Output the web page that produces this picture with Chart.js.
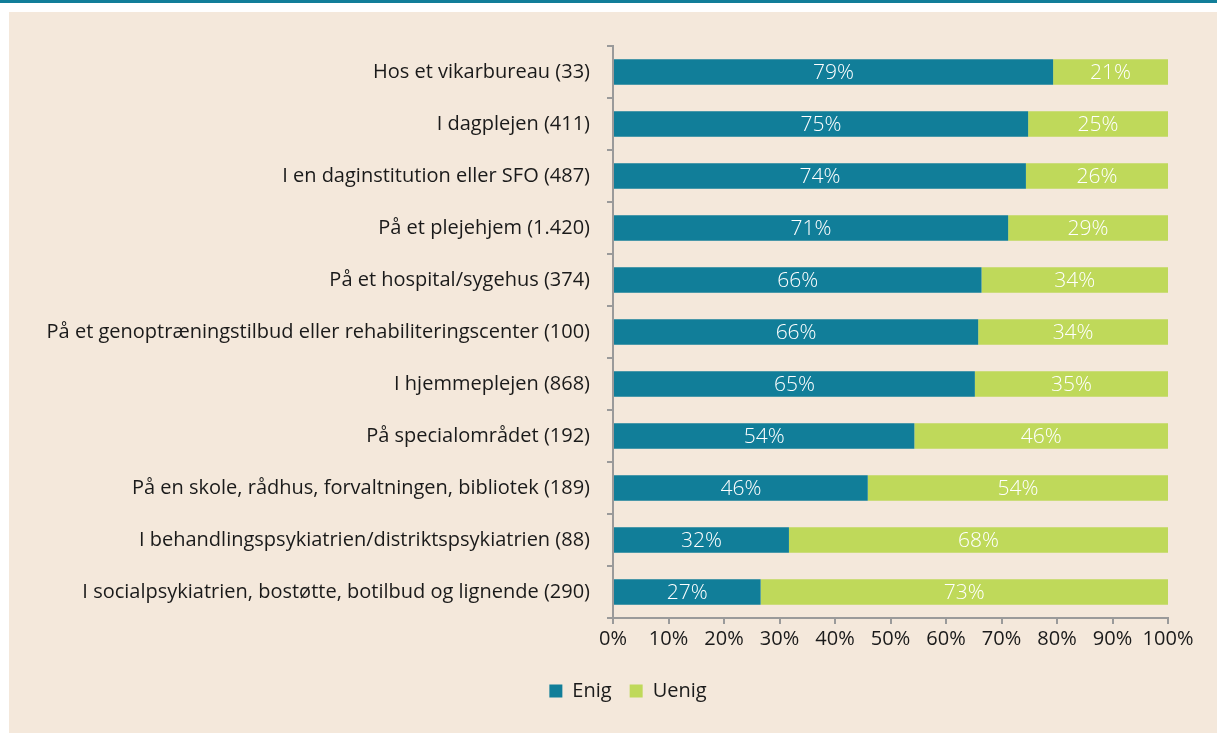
<!DOCTYPE html>
<html>
<head>
<meta charset="utf-8">
<script src="https://cdn.jsdelivr.net/npm/chart.js@4.4.0/dist/chart.umd.min.js"></script>
<style>
  html, body { margin: 0; padding: 0; background: #ffffff; }
  body { width: 1217px; height: 733px; position: relative; overflow: hidden; font-family: "Open Sans", sans-serif; }
  #topline { position: absolute; left: 0; top: 0; width: 1217px; height: 3px; background: #117e99; }
  #panel { position: absolute; left: 9px; top: 12px; width: 1208px; height: 721px; background: #f4e8db; }
  #c { display: block; }
</style>
</head>
<body>
<div id="topline"></div>
<div id="panel"><canvas id="c" width="1208" height="721"></canvas></div>
<script>
const categories = [
  "Hos et vikarbureau (33)",
  "I dagplejen (411)",
  "I en daginstitution eller SFO (487)",
  "På et plejehjem (1.420)",
  "På et hospital/sygehus (374)",
  "På et genoptræningstilbud eller rehabiliteringscenter (100)",
  "I hjemmeplejen (868)",
  "På specialområdet (192)",
  "På en skole, rådhus, forvaltningen, bibliotek (189)",
  "I behandlingspsykiatrien/distriktspsykiatrien (88)",
  "I socialpsykiatrien, bostøtte, botilbud og lignende (290)"
];
const enig  = [79.3, 74.8, 74.4, 71.2, 66.4, 65.8, 65.2, 54.3, 45.9, 31.7, 26.6];
const uenig = [20.7, 25.2, 25.6, 28.8, 33.6, 34.2, 34.8, 45.7, 54.1, 68.3, 73.4];
const xTicks = [0, 10, 20, 30, 40, 50, 60, 70, 80, 90, 100];

const FONT = "'Open Sans', 'Noto Sans', sans-serif";
const TEAL = "#117e99";
const GREEN = "#bfd95a";
const AXIS = "#9a9a9a";

const barLabels = {
  id: "barLabels",
  afterDatasetsDraw(chart) {
    const ctx = chart.ctx;
    ctx.save();
    ctx.font = "300 21px " + FONT;
    ctx.fillStyle = "#ffffff";
    ctx.textAlign = "center";
    ctx.textBaseline = "middle";
    chart.data.datasets.forEach((ds, di) => {
      const meta = chart.getDatasetMeta(di);
      meta.data.forEach((bar, i) => {
        const cx = (bar.x + bar.base) / 2;
        ctx.fillText(Math.round(ds.data[i]) + "%", cx, bar.y + 1);
      });
    });
    ctx.restore();
  }
};

const legendShift = {
  id: "legendShift",
  afterLayout(chart) {
    if (chart.legend) { chart.legend.left += 79; }
  }
};

new Chart(document.getElementById("c"), {
  type: "bar",
  data: {
    labels: categories,
    datasets: [
      { label: "Enig", data: enig, backgroundColor: TEAL, borderWidth: 0, categoryPercentage: 1, barPercentage: 0.49 },
      { label: "Uenig", data: uenig, backgroundColor: GREEN, borderWidth: 0, categoryPercentage: 1, barPercentage: 0.49 }
    ]
  },
  options: {
    indexAxis: "y",
    responsive: false,
    animation: false,
    devicePixelRatio: 1,
    layout: { padding: { top: 34, right: 49, bottom: 22, left: 0 } },
    scales: {
      x: {
        stacked: true,
        min: 0, max: 100,
        afterBuildTicks: s => { s.ticks = xTicks.map(v => ({ value: v })); },
        afterFit: s => { s.height = 45; },
        grid: { display: true, drawOnChartArea: false, drawTicks: true, tickLength: 6, color: AXIS, lineWidth: 2 },
        border: { display: true, color: AXIS, width: 2 },
        ticks: { padding: 3, color: "#1a1a1a", font: { family: FONT, size: 20 }, callback: v => v + "%" , maxRotation: 0 }
      },
      y: {
        stacked: true,
        afterFit: s => { s.width = 604; },
        grid: { display: true, drawOnChartArea: false, drawTicks: true, tickLength: 6, offset: true, color: AXIS, lineWidth: 2 },
        border: { display: true, color: AXIS, width: 2 },
        ticks: { padding: 17, color: "#1a1a1a", font: { family: FONT, size: 20 } }
      }
    },
    plugins: {
      legend: {
        position: "bottom",
        labels: { boxWidth: 13, boxHeight: 13, padding: 18, color: "#1a1a1a", font: { family: FONT, size: 20 } }
      },
      tooltip: { enabled: false },
      title: { display: false }
    }
  },
  plugins: [barLabels, legendShift]
});
</script>
</body>
</html>
